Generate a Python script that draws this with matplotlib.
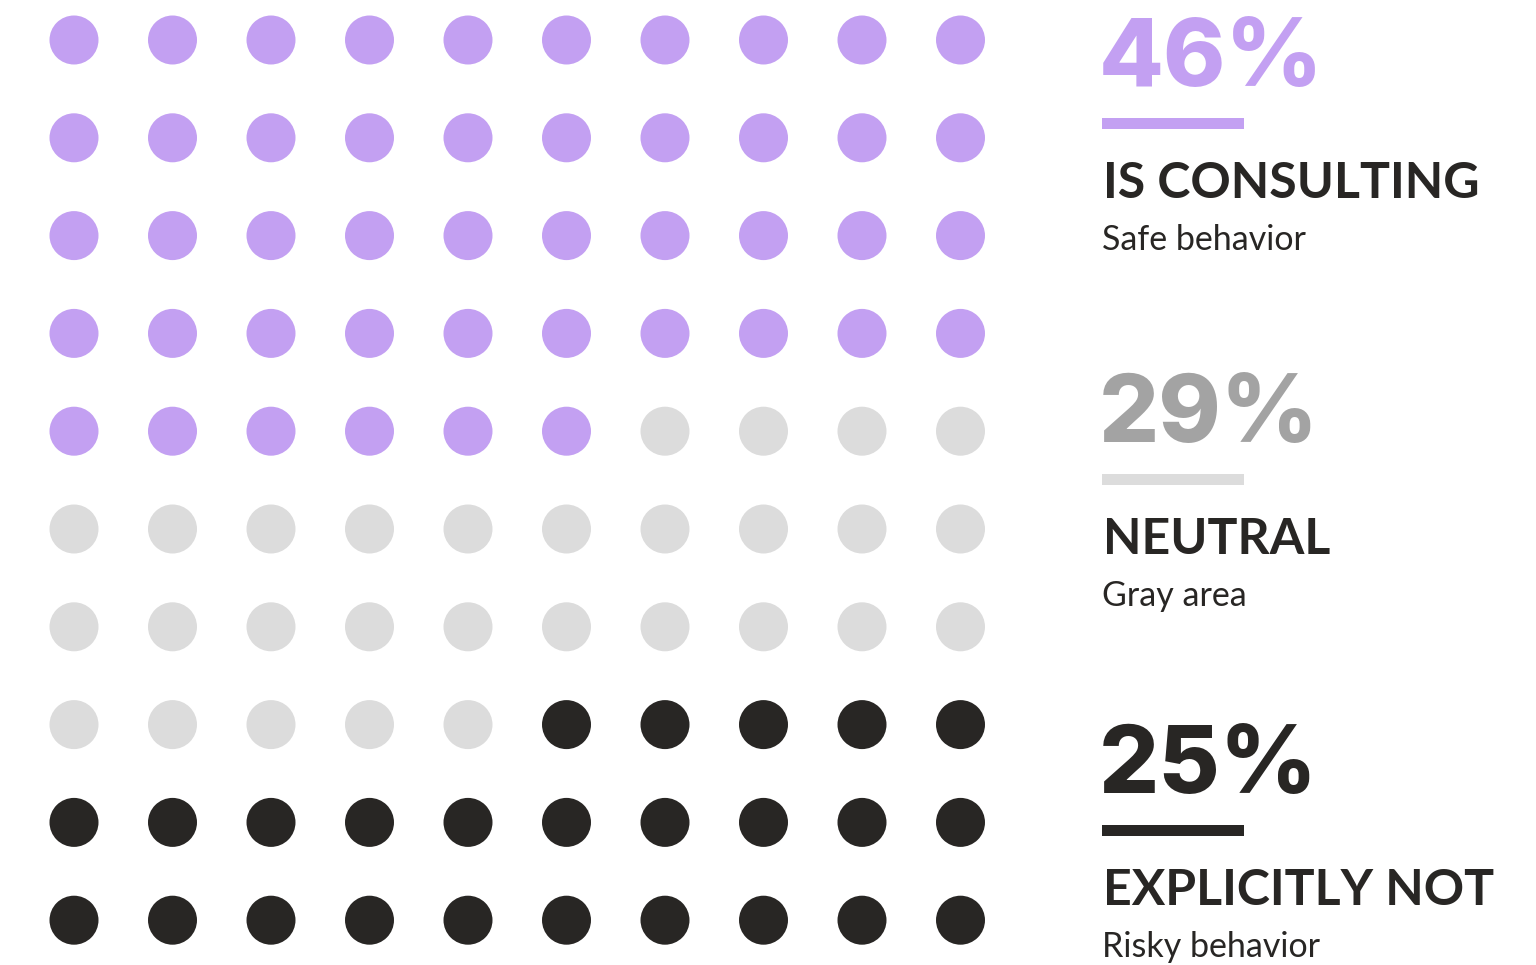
import numpy as np
import matplotlib.pyplot as plt
from matplotlib.patches import Rectangle

# data
categories = ["IS CONSULTING", "NEUTRAL", "EXPLICITLY NOT"]
subtitles = ["Safe behavior", "Gray area", "Risky behavior"]
shares = [46, 29, 25]

# styles
dot_colors = ["#c3a0f2", "#dcdcdc", "#282624"]
num_colors = ["#c3a0f2", "#a3a3a3", "#282624"]
dark = "#282624"

W, H = 1536, 965
fig = plt.figure(figsize=(W / 100, H / 100), dpi=100)
ax = fig.add_axes([0, 0, 1, 1])
ax.set_xlim(0, W)
ax.set_ylim(H, 0)
ax.axis("off")

# waffle grid 10x10, filled row by row
n_cols, n_rows = 10, 10
x0, dx = 74, 98.5
y0, dy = 40, 97.8
cols = np.repeat(dot_colors, shares)
idx = np.arange(n_cols * n_rows)
xs = x0 + (idx % n_cols) * dx
ys = y0 + (idx // n_cols) * dy
d_pt = 49 * 72 / 100
ax.scatter(xs, ys, s=d_pt ** 2, c=cols, linewidths=0)

# side labels
font = "Lato"
tx = 1102
blocks_top = [86, 442, 793]
for i in range(3):
    base = blocks_top[i]
    ax.text(tx - 3, base, f"{shares[i]}%", fontsize=68, fontweight="heavy",
            color=num_colors[i], family="Inter", va="baseline", ha="left")
    ax.add_patch(Rectangle((tx, base + 32), 142, 11, color=dot_colors[i], lw=0))
    ax.text(tx + 1, base + 112, categories[i], fontsize=36, fontweight="bold",
            color=dark, family=font, va="baseline", ha="left")
    ax.text(tx, base + 164, subtitles[i], fontsize=24.5, color=dark,
            family=font, va="baseline", ha="left")

fig.savefig("out.png", dpi=100)
